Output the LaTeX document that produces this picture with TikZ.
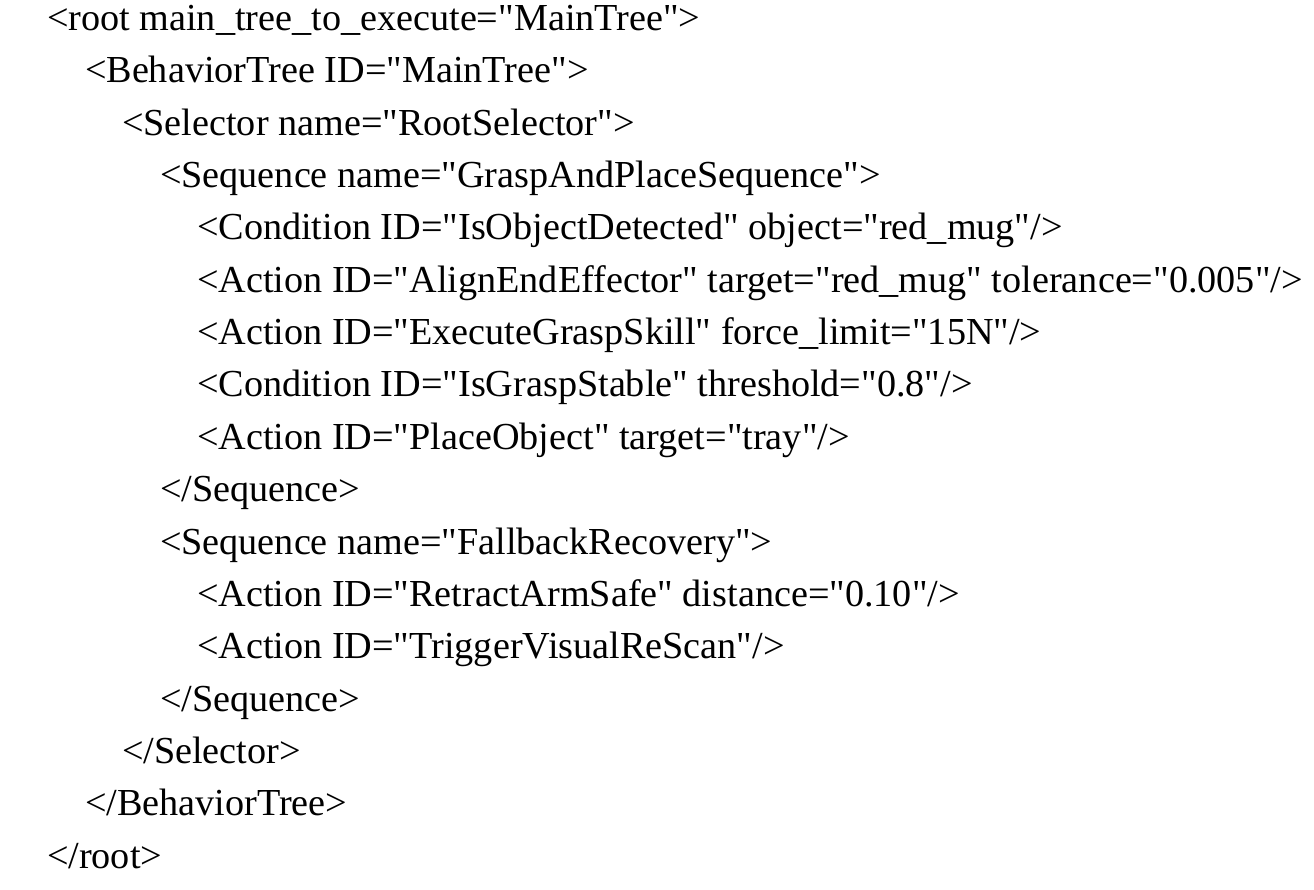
\documentclass[tikz,border=0pt]{standalone}
\usepackage{fontspec}
\newfontfamily\xmlfont{Liberation Serif}
\tikzset{
  xmlline/.style={inner sep=0pt, outer sep=0pt, anchor=base west,
    font=\xmlfont\fontsize{19.1}{23}\selectfont},
}
\begin{document}
\begin{tikzpicture}[x=0.5pt, y=-0.5pt]
    \useasboundingbox (0,0) rectangle (1314,890);
    \node[xmlline] (root) at (47,30.5){<root main\_tree\_to\_execute="MainTree">};
    \node[xmlline] (bt) at (85,82.85){<BehaviorTree ID="MainTree">};
    \node[xmlline] (sel) at (122,135.2){<Selector name="RootSelector">};
    \node[xmlline] (seq1) at (160,187.55){<Sequence name="GraspAndPlaceSequence">};
    \node[xmlline] (cond1) at (197,239.9){<Condition ID="IsObjectDetected" object="red\_mug"/>};
    \node[xmlline] (act1) at (197,292.25){<Action ID="AlignEndEffector" target="red\_mug" tolerance="0.005"/>};
    \node[xmlline] (act2) at (197,344.6){<Action ID="ExecuteGraspSkill" force\_limit="15N"/>};
    \node[xmlline] (cond2) at (197,396.95){<Condition ID="IsGraspStable" threshold="0.8"/>};
    \node[xmlline] (act3) at (197,449.3){<Action ID="PlaceObject" target="tray"/>};
    \node[xmlline] (seq1end) at (160,501.65){</Sequence>};
    \node[xmlline] (seq2) at (160,554){<Sequence name="FallbackRecovery">};
    \node[xmlline] (act4) at (197,606.35){<Action ID="RetractArmSafe" distance="0.10"/>};
    \node[xmlline] (act5) at (197,658.7){<Action ID="TriggerVisualReScan"/>};
    \node[xmlline] (seq2end) at (160,711.05){</Sequence>};
    \node[xmlline] (selend) at (122,763.4){</Selector>};
    \node[xmlline] (btend) at (85,815.75){</BehaviorTree>};
    \node[xmlline] (rootend) at (47,868.1){</root>};
  \end{tikzpicture}
\end{document}
